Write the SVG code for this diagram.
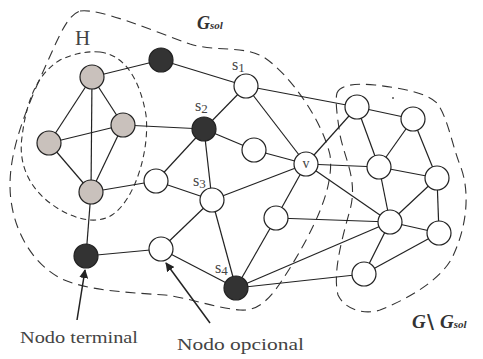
<svg xmlns="http://www.w3.org/2000/svg" width="483" height="359" viewBox="0 0 483 359">
  <style>
    .edge { stroke: #222; stroke-width: 1.2; fill: none; }
    .node { stroke: #222; stroke-width: 1.2; }
    .white { fill: #fff; }
    .grey { fill: #c9c1bc; }
    .black { fill: #333; }
    .region { fill: none; stroke: #333; stroke-width: 1.1; }
    .lbl { font-family: "Liberation Serif", serif; fill: #444; }
    .set { font-family: "Liberation Serif", serif; font-weight: bold; font-style: italic; fill: #333; }
    .arrow { stroke: #222; stroke-width: 1.5; fill: none; }
  </style>
  <defs>
    <marker id="head" viewBox="0 0 10 10" refX="9" refY="5" markerWidth="9" markerHeight="9" markerUnits="userSpaceOnUse" orient="auto">
      <path d="M0,0 L10,5 L0,10 Z" fill="#222"/>
    </marker>
  </defs>

  <rect width="483" height="359" fill="#fff"/>

  <!-- dashed regions -->
  <g id="regions">
    <path class="region" stroke-dasharray="10 6" d="M80,11 C100,8 150,30 190,44 C215,52 245,45 265,58 C290,75 322,120 330,155 C335,190 310,235 290,268 C275,292 262,312 240,310 C215,308 190,298 165,295 C120,292 85,290 60,278 C30,262 10,225 10,185 C10,140 35,90 55,45 C63,28 70,14 80,11 Z"/>
    <path class="region" stroke-dasharray="6 4" d="M100,52 C125,55 140,80 146,115 C150,150 135,200 112,215 C95,226 70,218 50,203 C30,188 18,165 22,137 C26,105 35,75 60,60 C75,53 88,51 100,52 Z"/>
    <path class="region" stroke-dasharray="10 6" d="M337,93 C340,85 355,83 375,85 C400,88 425,92 437,103 C448,118 452,145 460,165 C470,190 468,225 452,258 C440,280 410,298 380,310 C365,315 345,310 338,295 C333,275 340,245 350,210 C358,180 345,160 340,135 C337,115 335,100 337,93 Z"/>
    <circle cx="393" cy="98" r="1" fill="#555"/>
  </g>

  <!-- connectors -->
  <g id="edges" class="edge">
    <line x1="92" y1="77" x2="161" y2="60"/>
    <line x1="161" y1="60" x2="246" y2="86"/>
    <line x1="92" y1="77" x2="49" y2="143"/>
    <line x1="92" y1="77" x2="123" y2="125"/>
    <line x1="92" y1="77" x2="91" y2="192"/>
    <line x1="49" y1="143" x2="123" y2="125"/>
    <line x1="49" y1="143" x2="91" y2="192"/>
    <line x1="123" y1="125" x2="91" y2="192"/>
    <line x1="123" y1="125" x2="204" y2="129"/>
    <line x1="204" y1="129" x2="246" y2="86"/>
    <line x1="204" y1="129" x2="156" y2="181"/>
    <line x1="204" y1="129" x2="212" y2="200"/>
    <line x1="204" y1="129" x2="254" y2="150"/>
    <line x1="254" y1="150" x2="306" y2="164"/>
    <line x1="246" y1="86" x2="306" y2="164"/>
    <line x1="246" y1="86" x2="357" y2="107"/>
    <line x1="91" y1="192" x2="156" y2="181"/>
    <line x1="156" y1="181" x2="212" y2="200"/>
    <line x1="212" y1="200" x2="306" y2="164"/>
    <line x1="212" y1="200" x2="161" y2="249"/>
    <line x1="212" y1="200" x2="236" y2="288"/>
    <line x1="91" y1="192" x2="86" y2="256"/>
    <line x1="86" y1="256" x2="161" y2="249"/>
    <line x1="161" y1="249" x2="236" y2="288"/>
    <line x1="306" y1="164" x2="357" y2="107"/>
    <line x1="306" y1="164" x2="379" y2="167"/>
    <line x1="306" y1="164" x2="390" y2="222"/>
    <line x1="306" y1="164" x2="276" y2="218"/>
    <line x1="276" y1="218" x2="390" y2="222"/>
    <line x1="236" y1="288" x2="276" y2="218"/>
    <line x1="236" y1="288" x2="390" y2="222"/>
    <line x1="236" y1="288" x2="364" y2="274"/>
    <line x1="357" y1="107" x2="413" y2="119"/>
    <line x1="357" y1="107" x2="379" y2="167"/>
    <line x1="413" y1="119" x2="379" y2="167"/>
    <line x1="413" y1="119" x2="437" y2="178"/>
    <line x1="379" y1="167" x2="437" y2="178"/>
    <line x1="379" y1="167" x2="390" y2="222"/>
    <line x1="437" y1="178" x2="390" y2="222"/>
    <line x1="437" y1="178" x2="439" y2="233"/>
    <line x1="390" y1="222" x2="439" y2="233"/>
    <line x1="390" y1="222" x2="364" y2="274"/>
    <line x1="364" y1="274" x2="439" y2="233"/>
  </g>

  <!-- nodes -->
  <g id="h1"><circle class="node grey" cx="92" cy="77" r="12"/></g>
  <g id="h2"><circle class="node grey" cx="49" cy="143" r="12"/></g>
  <g id="h3"><circle class="node grey" cx="123" cy="125" r="12"/></g>
  <g id="h4"><circle class="node grey" cx="91" cy="192" r="12"/></g>
  <g id="t1"><circle class="node black" cx="161" cy="60" r="12"/></g>
  <g id="s1"><circle class="node white" cx="246" cy="86" r="12"/></g>
  <g id="s2"><circle class="node black" cx="204" cy="129" r="12"/></g>
  <g id="w1"><circle class="node white" cx="254" cy="150" r="12"/></g>
  <g id="v"><circle class="node white" cx="306" cy="164" r="12"/><text class="lbl" x="306" y="168" font-size="14" text-anchor="middle">v</text></g>
  <g id="w2"><circle class="node white" cx="156" cy="181" r="12"/></g>
  <g id="s3"><circle class="node white" cx="212" cy="200" r="12"/></g>
  <g id="t2"><circle class="node black" cx="86" cy="256" r="12"/></g>
  <g id="opt"><circle class="node white" cx="161" cy="249" r="12"/></g>
  <g id="w3"><circle class="node white" cx="276" cy="218" r="12"/></g>
  <g id="s4"><circle class="node black" cx="236" cy="288" r="12"/></g>
  <g id="a"><circle class="node white" cx="357" cy="107" r="12"/></g>
  <g id="b"><circle class="node white" cx="413" cy="119" r="12"/></g>
  <g id="c"><circle class="node white" cx="379" cy="167" r="12"/></g>
  <g id="d"><circle class="node white" cx="437" cy="178" r="12"/></g>
  <g id="e"><circle class="node white" cx="390" cy="222" r="12"/></g>
  <g id="f"><circle class="node white" cx="439" cy="233" r="12"/></g>
  <g id="g"><circle class="node white" cx="364" cy="274" r="12"/></g>

  <!-- vertex labels -->
  <g id="labels" class="lbl" font-size="16">
    <text x="232" y="70">s<tspan font-size="13" dy="2">1</tspan></text>
    <text x="195" y="111">s<tspan font-size="13" dy="2">2</tspan></text>
    <text x="193" y="186">s<tspan font-size="13" dy="2">3</tspan></text>
    <text x="215" y="273">s<tspan font-size="13" dy="2">4</tspan></text>
    <text x="75" y="45" font-size="21">H</text>
  </g>

  <!-- set names -->
  <g id="sets" class="set">
    <text x="197" y="29" font-size="18">G<tspan font-size="11">sol</tspan></text>
    <text x="412" y="328" font-size="19">G</text>
    <text x="427" y="328" font-size="19" font-style="normal" font-family="'DejaVu Sans', sans-serif">\</text>
    <text x="440" y="328" font-size="19">G<tspan font-size="11">sol</tspan></text>
  </g>

  <!-- pointer arrows and captions -->
  <g id="callouts">
    <line class="arrow" x1="77" y1="320" x2="85" y2="270" marker-end="url(#head)"/>
    <line class="arrow" x1="210" y1="323" x2="166" y2="263" marker-end="url(#head)"/>
    <text class="lbl" x="20" y="343" font-size="17" textLength="118" lengthAdjust="spacingAndGlyphs" fill="#333">Nodo terminal</text>
    <text class="lbl" x="177" y="350" font-size="17" textLength="127" lengthAdjust="spacingAndGlyphs" fill="#333">Nodo opcional</text>
  </g>
</svg>
